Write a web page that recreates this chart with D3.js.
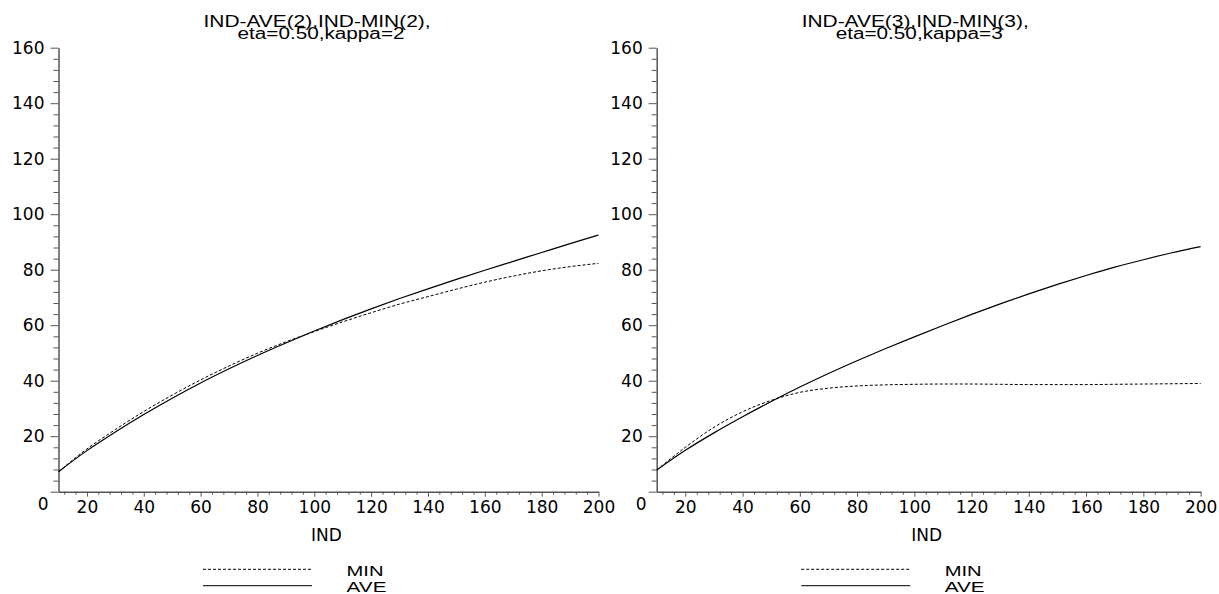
<!DOCTYPE html>
<html>
<head>
<meta charset="utf-8">
<script src="https://cdn.jsdelivr.net/npm/d3@7"></script>
<style>
  body { margin: 0; background: #fff; }
  .tick text { font-family: "DejaVu Sans", sans-serif; font-size: 17px; fill: #000; }
  .tick line { stroke: #555; }
  .domain { stroke: #555; stroke-width: 1.5; }
</style>
</head>
<body>
<svg id="chart" width="1219" height="594"></svg>
<script>
// values
const indValues = [10, 20, 30, 40, 50, 60, 70, 80, 90, 100, 110, 120, 130, 140, 150, 160, 170, 180, 190, 200];
const ave2 = [7.2, 14.8, 21.5, 27.8, 33.7, 39.2, 44.3, 49.1, 53.6, 57.9, 62.0, 65.9, 69.6, 73.1, 76.5, 79.8, 83.0, 86.2, 89.4, 92.5];
const min2 = [7.2, 15.4, 22.4, 28.9, 34.8, 40.3, 45.3, 49.9, 54.0, 57.7, 61.2, 64.5, 67.6, 70.3, 73.0, 75.5, 77.7, 79.6, 81.1, 82.3];
const ave3 = [7.8, 14.9, 21.2, 27.0, 32.5, 37.7, 42.6, 47.2, 51.6, 55.8, 59.9, 63.9, 67.7, 71.3, 74.7, 77.9, 80.9, 83.6, 86.1, 88.3];
const min3 = [7.8, 16.0, 23.2, 28.8, 32.9, 35.8, 37.3, 38.1, 38.5, 38.7, 38.8, 38.8, 38.7, 38.6, 38.6, 38.6, 38.7, 38.8, 38.9, 39.0];

const yTicks = [0, 20, 40, 60, 80, 100, 120, 140, 160];
const xTicks = [20, 40, 60, 80, 100, 120, 140, 160, 180, 200];
const legendNames = ["MIN", "AVE"];
const titles2 = ["IND-AVE(2),IND-MIN(2),", "eta=0.50,kappa=2"];
const titles3 = ["IND-AVE(3),IND-MIN(3),", "eta=0.50,kappa=3"];
const xLabel = "IND";

var svg = d3.select("#chart");

var yMinor = d3.range(0, 161, 4).filter(function(v) { return v % 20 != 0; });
var xMinor = d3.range(12, 200, 4).filter(function(v) { return v % 20 != 0; });

function drawPanel(p) {
  var x = d3.scaleLinear().domain([10, 200]).range([p.left, p.right]);
  var y = d3.scaleLinear().domain([0, 160]).range([491.7, 47.7]);

  // minor ticks
  svg.append("g")
    .attr("transform", `translate(${p.left},0)`)
    .call(d3.axisLeft(y).tickValues(yMinor).tickSize(5).tickSizeOuter(0).tickFormat(""))
    .call(g => g.select(".domain").remove());
  svg.append("g")
    .attr("transform", `translate(0,${y(0)})`)
    .call(d3.axisBottom(x).tickValues(xMinor).tickSize(3).tickSizeOuter(0).tickFormat(""))
    .call(g => g.select(".domain").remove());

  var yAxis = svg.append("g")
    .attr("transform", `translate(${p.left},0)`)
    .call(d3.axisLeft(y).tickValues(yTicks).tickSize(8).tickSizeOuter(0).tickPadding(6));
  // the zero label sits below the corner
  yAxis.selectAll(".tick text")
    .filter(function(d) { return d == 0; })
    .attr("x", -10).attr("dy", "1.05em");

  svg.append("g")
    .attr("transform", `translate(0,${y(0)})`)
    .call(d3.axisBottom(x).tickValues(xTicks).tickSize(5).tickSizeOuter(0).tickPadding(4));

  var line = d3.line()
    .x(function(d, i) { return x(indValues[i]); })
    .y(function(d) { return y(d); })
    .curve(d3.curveMonotoneX);

  svg.append("path")
    .datum(p.min)
    .attr("d", line)
    .attr("fill", "none")
    .attr("stroke", "#000")
    .attr("stroke-width", 1)
    .attr("stroke-dasharray", "3,2");
  svg.append("path")
    .datum(p.ave)
    .attr("d", line)
    .attr("fill", "none")
    .attr("stroke", "#000")
    .attr("stroke-width", 1.2);

  // title, two lines packed close together
  svg.append("text")
    .attr("x", p.left + 258.5).attr("y", 26.5)
    .attr("text-anchor", "middle")
    .attr("textLength", 227).attr("lengthAdjust", "spacingAndGlyphs")
    .style("font-family", "'Liberation Sans', Arial, sans-serif")
    .style("font-size", "16px")
    .text(p.titles[0]);
  svg.append("text")
    .attr("x", p.left + 262.5).attr("y", 38.5)
    .attr("text-anchor", "middle")
    .attr("textLength", 167).attr("lengthAdjust", "spacingAndGlyphs")
    .style("font-family", "'Liberation Sans', Arial, sans-serif")
    .style("font-size", "16px")
    .text(p.titles[1]);

  svg.append("text")
    .attr("x", x(105) - 2).attr("y", 540.7)
    .attr("text-anchor", "middle")
    .style("font-family", "'DejaVu Sans', sans-serif")
    .style("font-size", "17px")
    .text(xLabel);

  // legend
  var lg = svg.append("g").attr("transform", `translate(${p.left + 144.5},0)`);
  lg.append("line")
    .attr("x1", 0).attr("x2", 108).attr("y1", 569.3).attr("y2", 569.3)
    .attr("stroke", "#000").attr("stroke-width", 1).attr("stroke-dasharray", "3,2");
  lg.append("line")
    .attr("x1", 0).attr("x2", 109).attr("y1", 585.7).attr("y2", 585.7)
    .attr("stroke", "#333").attr("stroke-width", 1.2);
  legendNames.forEach(function(name, i) {
    lg.append("text")
      .attr("x", 143.5).attr("y", 576 + i * 15.7)
      .attr("textLength", i == 0 ? 37 : 40).attr("lengthAdjust", "spacingAndGlyphs")
      .style("font-family", "'Liberation Sans', Arial, sans-serif")
      .style("font-size", "15.5px")
      .text(name);
  });
}

drawPanel({ left: 58.5, right: 598.5, ave: ave2, min: min2, titles: titles2 });
drawPanel({ left: 656.7, right: 1200.6, ave: ave3, min: min3, titles: titles3 });
</script>
</body>
</html>
